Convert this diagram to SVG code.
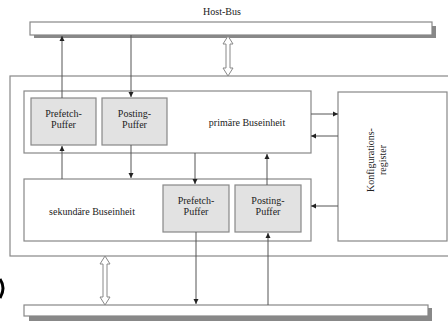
<svg xmlns="http://www.w3.org/2000/svg" width="448" height="323" viewBox="0 0 448 323">
<defs>
<style>
.box{fill:#fff;stroke:#888;stroke-width:1.2}
.buf{fill:#e2e2e2;stroke:#888;stroke-width:1.2}
.bus{fill:#fff;stroke:#888;stroke-width:1.2}
.sh{fill:#888}
.ln{stroke:#555;stroke-width:1;fill:none;marker-end:url(#ah)}
.dbl{fill:#fff;stroke:#888;stroke-width:1}
text{font-family:"Liberation Serif","DejaVu Serif",serif;font-size:10px;fill:#222;text-anchor:middle}
</style>
<marker id="ah" markerWidth="6" markerHeight="6" refX="5" refY="3" orient="auto" markerUnits="userSpaceOnUse">
<path d="M0,0.5 L5,3 L0,5.5 Z" fill="#222"/>
</marker>
</defs>
<rect width="448" height="323" fill="#fff"/>
<g id="hostbus">
<rect class="sh" x="34" y="26" width="402" height="12"/>
<rect class="bus" x="30" y="22" width="402" height="13"/>
<text x="222" y="15">Host-Bus</text>
</g>
<g id="lowerbus">
<rect class="sh" x="29" y="308" width="403" height="13"/>
<rect class="bus" x="24" y="305" width="404" height="11"/>
</g>
<g id="bridge">
<rect class="box" x="10" y="76" width="445" height="180"/>
</g>
<g id="primary">
<rect class="box" x="24" y="91" width="287" height="62"/>
<text x="247" y="126">primäre Buseinheit</text>
</g>
<g id="secondary">
<rect class="box" x="24" y="179" width="287" height="62"/>
<text x="92" y="215">sekundäre Buseinheit</text>
</g>
<g id="config">
<rect class="box" x="338" y="92" width="109" height="149"/>
<text transform="translate(374,160) rotate(-90)">Konfigurations-</text>
<text transform="translate(386,160) rotate(-90)">register</text>
</g>
<g id="prefetch1">
<rect class="buf" x="31" y="98" width="65" height="47"/>
<text x="63.5" y="117">Prefetch-</text>
<text x="63.5" y="128">Puffer</text>
</g>
<g id="posting1">
<rect class="buf" x="102" y="98" width="65" height="47"/>
<text x="134.5" y="117">Posting-</text>
<text x="134.5" y="128">Puffer</text>
</g>
<g id="prefetch2">
<rect class="buf" x="163" y="185" width="66" height="47"/>
<text x="196" y="204">Prefetch-</text>
<text x="196" y="215">Puffer</text>
</g>
<g id="posting2">
<rect class="buf" x="235" y="185" width="66" height="47"/>
<text x="268" y="204">Posting-</text>
<text x="268" y="215">Puffer</text>
</g>
<g id="connectors">
<line class="ln" x1="62" y1="98" x2="62" y2="36"/>
<line class="ln" x1="131" y1="35" x2="131" y2="97"/>
<line class="ln" x1="62" y1="179" x2="62" y2="146"/>
<line class="ln" x1="131" y1="145" x2="131" y2="178"/>
<line class="ln" x1="195" y1="153" x2="195" y2="184"/>
<line class="ln" x1="267" y1="185" x2="267" y2="154"/>
<line class="ln" x1="311" y1="114" x2="338" y2="114"/>
<line class="ln" x1="338" y1="136" x2="311" y2="136"/>
<line class="ln" x1="338" y1="206" x2="311" y2="206"/>
<line class="ln" x1="196" y1="232" x2="196" y2="304"/>
<line class="ln" x1="268" y1="305" x2="268" y2="233"/>
<path class="dbl" d="M228,36 L233,44 L230,44 L230,68 L233,68 L228,76 L223,68 L226,68 L226,44 L223,44 Z"/>
<path class="dbl" d="M105,256 L110,264 L107,264 L107,297 L110,297 L105,305 L100,297 L103,297 L103,264 L100,264 Z"/>
</g>
<path d="M0,279 Q6,288 0,298" fill="none" stroke="#000" stroke-width="3"/>
</svg>
